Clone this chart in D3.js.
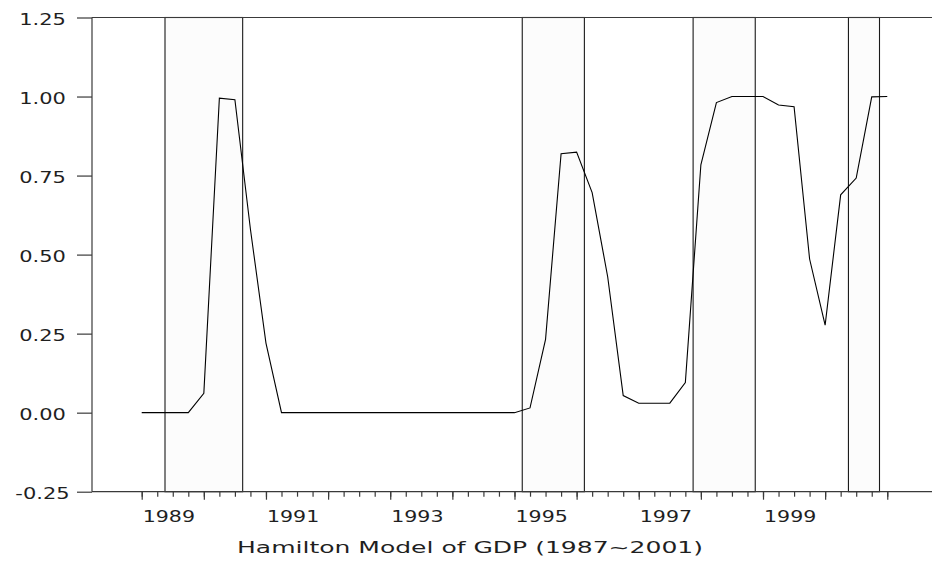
<!DOCTYPE html>
<html>
<head>
<meta charset="utf-8">
<script src="https://cdn.jsdelivr.net/npm/d3@7/dist/d3.min.js"></script>
<style>
  html, body { margin: 0; padding: 0; background: #fff; }
  svg { display: block; }
  text { font-family: "DejaVu Sans", sans-serif; fill: #1f1f1f; }
</style>
</head>
<body>
<svg id="chart" width="932" height="563"></svg>
<script>
// Quarterly periods of the smoothed regime probability series
const periods = [
  "1989Q1","1989Q2","1989Q3","1989Q4",
  "1990Q1","1990Q2","1990Q3","1990Q4",
  "1991Q1","1991Q2","1991Q3","1991Q4",
  "1992Q1","1992Q2","1992Q3","1992Q4",
  "1993Q1","1993Q2","1993Q3","1993Q4",
  "1994Q1","1994Q2","1994Q3","1994Q4",
  "1995Q1","1995Q2","1995Q3","1995Q4",
  "1996Q1","1996Q2","1996Q3","1996Q4",
  "1997Q1","1997Q2","1997Q3","1997Q4",
  "1998Q1","1998Q2","1998Q3","1998Q4",
  "1999Q1","1999Q2","1999Q3","1999Q4",
  "2000Q1","2000Q2","2000Q3","2000Q4",
  "2001Q1"
];

// Probability of the low-growth regime
const probability = [
  0.000, 0.000, 0.000, 0.000,
  0.061, 0.995, 0.990, 0.580,
  0.220, 0.000, 0.000, 0.000,
  0.000, 0.000, 0.000, 0.000,
  0.000, 0.000, 0.000, 0.000,
  0.000, 0.000, 0.000, 0.000,
  0.000, 0.015, 0.232, 0.819,
  0.824, 0.696, 0.430, 0.054,
  0.030, 0.030, 0.030, 0.095,
  0.784, 0.981, 1.000, 1.000,
  1.000, 0.973, 0.968, 0.486,
  0.277, 0.689, 0.742, 0.999,
  1.000
];

// Shaded recession periods (first and last quarter)
const bandStart = ["1989Q3", "1995Q2", "1998Q1", "2000Q3"];
const bandEnd   = ["1990Q3", "1996Q1", "1998Q4", "2000Q4"];

// Axis ticks
const yTicks = [-0.25, 0.00, 0.25, 0.50, 0.75, 1.00, 1.25];
const yearLabels = [1989, 1991, 1993, 1995, 1997, 1999];
const xTitle = "Hamilton Model of GDP (1987~2001)";

// period "YYYYQn" -> fractional year
const toYear = p => +p.slice(0, 4) + (+p.slice(5) - 1) / 4;

const svg = d3.select("#chart");
const plotLeft = 92, plotRight = 932, plotTop = 17.5, plotBottom = 491.7;

const x = d3.scaleLinear().domain([1988.2, 2001.72]).range([plotLeft, plotRight]);
const y = d3.scaleLinear().domain([-0.25, 1.25]).range([plotBottom, plotTop]);

const axisColor = "#3a3a3a";

// Recession bands
const half = 0.125;
svg.append("g").selectAll("rect")
  .data(bandStart.map((s, i) => [toYear(s) - half, toYear(bandEnd[i]) + half]))
  .join("rect")
  .attr("x", d => x(d[0]))
  .attr("y", y(1.25))
  .attr("width", d => x(d[1]) - x(d[0]))
  .attr("height", y(-0.25) - y(1.25))
  .attr("fill", "#fcfcfc")
  .attr("stroke", "#1a1a1a")
  .attr("stroke-width", 1.1);

// Frame: left, top and bottom lines
svg.append("line").attr("x1", plotLeft).attr("x2", plotLeft).attr("y1", plotTop).attr("y2", plotBottom)
  .attr("stroke", axisColor).attr("stroke-width", 1.2);
svg.append("line").attr("x1", plotLeft).attr("x2", plotRight).attr("y1", plotTop).attr("y2", plotTop)
  .attr("stroke", axisColor).attr("stroke-width", 1.2);
svg.append("line").attr("x1", plotLeft).attr("x2", plotRight).attr("y1", plotBottom).attr("y2", plotBottom)
  .attr("stroke", axisColor).attr("stroke-width", 1.2);

// Y axis (plain hyphen for negatives)
const yFmt = v => d3.format(".2f")(v).replace("\u2212", "-");
const yAxis = svg.append("g")
  .attr("transform", `translate(${plotLeft},0)`)
  .call(d3.axisLeft(y).tickValues(yTicks).tickSize(15).tickPadding(0).tickFormat(yFmt));
yAxis.select(".domain").remove();
yAxis.selectAll(".tick line").attr("stroke", axisColor).attr("stroke-width", 1.2);
yAxis.selectAll(".tick text")
  .attr("x", 0).attr("dy", null).attr("y", 0)
  .attr("text-anchor", "middle")
  .attr("font-size", 15)
  .attr("transform", "translate(-49.5,6.6) scale(1.4,1)");

// X axis: quarterly minor ticks and yearly major ticks
const quarterTicks = periods.map(toYear);
const xMinor = svg.append("g")
  .attr("transform", `translate(0,${plotBottom})`)
  .call(d3.axisBottom(x).tickValues(quarterTicks).tickSize(5).tickFormat(""));
xMinor.select(".domain").remove();
xMinor.selectAll(".tick line").attr("stroke", axisColor).attr("stroke-width", 1.2);

const yearTicks = quarterTicks.filter(t => Number.isInteger(t));
const xMajor = svg.append("g")
  .attr("transform", `translate(0,${plotBottom})`)
  .call(d3.axisBottom(x).tickValues(yearTicks).tickSize(8)
    .tickFormat(d => yearLabels.includes(d) ? String(d) : ""));
xMajor.select(".domain").remove();
xMajor.selectAll(".tick line").attr("stroke", axisColor).attr("stroke-width", 1.2);
xMajor.selectAll(".tick text")
  .attr("y", 0).attr("dy", null)
  .attr("text-anchor", "start")
  .attr("font-size", 15)
  .attr("transform", "translate(0.5,30) scale(1.37,1)");

// Axis title
svg.append("text")
  .attr("x", 470).attr("y", 553)
  .attr("text-anchor", "middle")
  .attr("font-size", 16.5)
  .attr("textLength", 466)
  .attr("lengthAdjust", "spacingAndGlyphs")
  .text(xTitle);

// Probability line
const line = d3.line()
  .x((d, i) => x(toYear(periods[i])))
  .y(d => y(d));
svg.append("path")
  .datum(probability)
  .attr("d", line)
  .attr("fill", "none")
  .attr("stroke", "#000")
  .attr("stroke-width", 1.1);
</script>
</body>
</html>
